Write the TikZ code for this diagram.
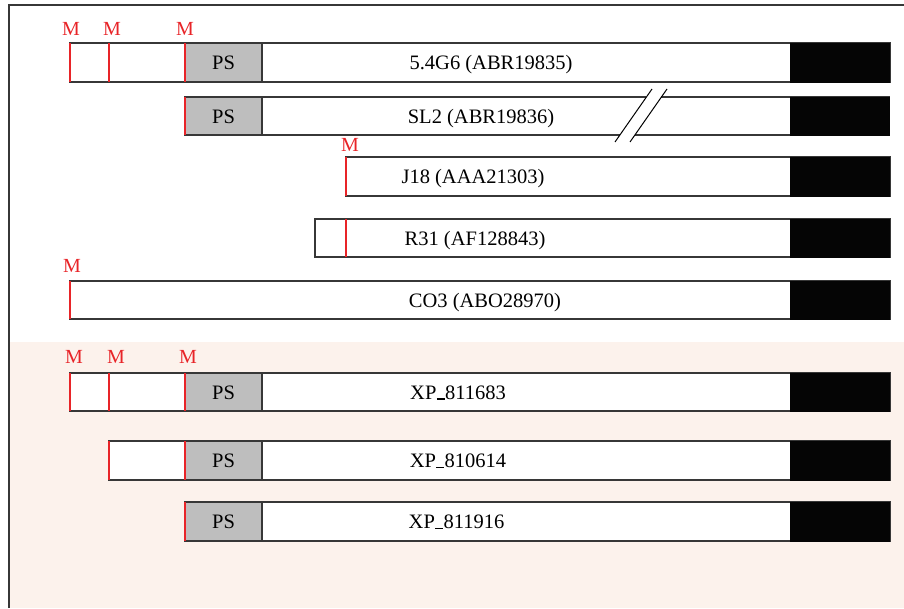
\documentclass[tikz,border=0pt]{standalone}
\usepackage{fontspec}
\setmainfont{Liberation Serif}
\definecolor{mred}{RGB}{232,36,40}
\definecolor{linegray}{RGB}{55,55,55}
\definecolor{psgray}{RGB}{190,190,190}
\definecolor{pinkbg}{RGB}{252,242,236}
\newcommand{\lowbar}{\kern0.02em\rule[-0.03em]{0.38em}{0.07em}\kern0.02em}
\tikzset{
  barbox/.style={draw=linegray, line width=1.3pt, fill=white},
  psbox/.style={draw=linegray, line width=1.3pt, fill=psgray},
  tailbox/.style={fill=black!98},
  mline/.style={draw=mred, line width=2pt},
  mlab/.style={text=mred, font=\fontsize{20}{22}\selectfont, anchor=base},
  lab/.style={font=\fontsize{20.5}{22}\selectfont, anchor=base},
  frameline/.style={draw=linegray, line width=1.4pt}
}
\begin{document}
\begin{tikzpicture}[x=1pt,y=-1pt]
\useasboundingbox (0,0) rectangle (904,608);
% background and frame
\fill[pinkbg] (10,342) rectangle (904,608);
\draw[frameline] (9,608) -- (9,5) -- (904,5);

% Row 1: 5.4G6
\draw[barbox] (70,43) rectangle (890,82);
\draw[psbox] (185,43) rectangle (262,82);
\fill[tailbox] (790,42.5) rectangle (890,82.5);
\draw[mline] (70,43) -- (70,82);
\draw[mline] (109,43) -- (109,82);
\draw[mline] (185,43) -- (185,82);
\node[mlab] (m11) at (71,35) {M};
\node[mlab] (m12) at (112,35) {M};
\node[mlab] (m13) at (185,35) {M};
\node[lab] (ps1) at (223.5,69.5) {PS};
\node[lab] (l1) at (491,69.5) {5.4G6 (ABR19835)};

% Row 2: SL2 with break
\fill[white] (185,97) rectangle (890,135);
\draw[linegray, line width=1.8pt] (185,97) -- (646,97);
\draw[linegray, line width=1.3pt] (661,97) -- (890,97);
\draw[linegray, line width=1.3pt] (185,135) -- (620,135);
\draw[linegray, line width=1.3pt] (635,135) -- (890,135);
\draw[black, line width=1pt] (615,142) -- (652,89);
\draw[black, line width=1pt] (630,142) -- (667,89);
\draw[psbox] (185,97) rectangle (262,135);
\fill[tailbox] (790,96.5) rectangle (890,135.5);
\draw[mline] (185,97) -- (185,135);
\node[lab] (ps2) at (223.5,123) {PS};
\node[lab] (l2) at (481,123) {SL2 (ABR19836)};

% Row 3: J18
\draw[barbox] (346,157) rectangle (890,196);
\fill[tailbox] (790,156.5) rectangle (890,196.5);
\draw[mline] (346,157) -- (346,196);
\node[mlab] (m3) at (350,151) {M};
\node[lab] (l3) at (473,183.5) {J18 (AAA21303)};

% Row 4: R31
\draw[barbox] (315,219) rectangle (890,257);
\fill[tailbox] (790,218.5) rectangle (890,257.5);
\draw[mline] (346,219) -- (346,257);
\node[lab] (l4) at (475,245) {R31 (AF128843)};

% Row 5: CO3
\draw[barbox] (70,281) rectangle (890,319);
\fill[tailbox] (790,280.5) rectangle (890,319.5);
\draw[mline] (70,281) -- (70,319);
\node[mlab] (m5) at (72,272) {M};
\node[lab] (l5) at (485,307) {CO3 (ABO28970)};

% Row 6: XP_811683
\draw[barbox] (70,373) rectangle (890,411);
\draw[psbox] (185,373) rectangle (262,411);
\fill[tailbox] (790,372.5) rectangle (890,411.5);
\draw[mline] (70,373) -- (70,411);
\draw[mline] (109,373) -- (109,411);
\draw[mline] (185,373) -- (185,411);
\node[mlab] (m61) at (74,363) {M};
\node[mlab] (m62) at (116,363) {M};
\node[mlab] (m63) at (188,363) {M};
\node[lab] (ps6) at (223.5,399) {PS};
\node[lab] (l6) at (458,399) {XP\lowbar 811683};

% Row 7: XP_810614
\draw[barbox] (109,441) rectangle (890,480);
\draw[psbox] (185,441) rectangle (262,480);
\fill[tailbox] (790,440.5) rectangle (890,480.5);
\draw[mline] (109,441) -- (109,480);
\draw[mline] (185,441) -- (185,480);
\node[lab] (ps7) at (223.5,467.5) {PS};
\node[lab] (l7) at (458,467.5) {XP\lowbar 810614};

% Row 8: XP_811916
\draw[barbox] (185,502) rectangle (890,541);
\draw[psbox] (185,502) rectangle (262,541);
\fill[tailbox] (790,501.5) rectangle (890,541.5);
\draw[mline] (185,502) -- (185,541);
\node[lab] (ps8) at (223.5,528.5) {PS};
\node[lab] (l8) at (456.5,528.5) {XP\lowbar 811916};
\end{tikzpicture}
\end{document}
